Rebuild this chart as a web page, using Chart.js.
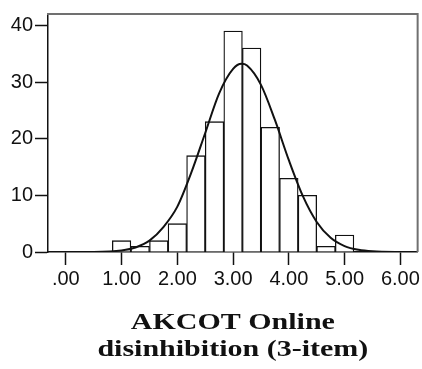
<!DOCTYPE html>
<html>
<head>
<meta charset="utf-8">
<script src="https://cdn.jsdelivr.net/npm/chart.js@4"></script>
<style>
  html, body { margin: 0; padding: 0; background: #fff; }
  #wrap { width: 422px; height: 369px; }
</style>
</head>
<body>
<div id="wrap"><canvas id="histChart" width="422" height="369"></canvas></div>
<script>
// Histogram bins (centres, width 1/3) and counts
const binCentres = [1.0, 1.333, 1.667, 2.0, 2.333, 2.667, 3.0, 3.333, 3.667, 4.0, 4.333, 4.667, 5.0];
const binCounts  = [2, 1, 2, 5, 17, 23, 39, 36, 22, 13, 10, 1, 3];

// Normal curve
const curveX = [-0.32, 0, 0.5, 1.0, 1.25, 1.5, 1.75, 2.0, 2.25, 2.5, 2.75, 3.0, 3.15, 3.25, 3.5, 3.75, 4.0, 4.25, 4.5, 4.75, 5.0, 5.25, 5.5, 6.0, 6.31];
const curveY = [0, 0, 0.02, 0.28, 0.8, 2.0, 4.4, 8.0, 14.0, 21.0, 28.0, 32.3, 33.2, 32.9, 29.5, 23.3, 16.2, 9.9, 5.3, 2.5, 1.05, 0.39, 0.12, 0.01, 0];

const xTickLabels = ['.00', '1.00', '2.00', '3.00', '4.00', '5.00', '6.00'];
const titleLines = ['AKCOT Online', 'disinhibition (3-item)'];

const tickFont = { family: '"Liberation Sans", Arial, sans-serif', size: 20 };

// gray frame on top/right like the SPSS box
const framePlugin = {
  id: 'frame',
  afterDraw(chart) {
    const { ctx, chartArea } = chart;
    ctx.save();
    ctx.strokeStyle = '#707070';
    ctx.lineWidth = 2;
    ctx.beginPath();
    ctx.moveTo(chartArea.left - 1, chartArea.top);
    ctx.lineTo(chartArea.right, chartArea.top);
    ctx.lineTo(chartArea.right, chartArea.bottom);
    ctx.stroke();
    ctx.restore();
  }
};

// axis title, bold serif drawn a bit wide
const titlePlugin = {
  id: 'wideTitle',
  afterDraw(chart) {
    const { ctx, chartArea } = chart;
    const cx = (chartArea.left + chartArea.right) / 2;
    ctx.save();
    ctx.fillStyle = '#111';
    ctx.font = 'bold 24px "Liberation Serif", "Times New Roman", serif';
    ctx.textAlign = 'center';
    ctx.textBaseline = 'alphabetic';
    [329, 356].forEach((y, i) => {
      ctx.save();
      ctx.translate(cx, y);
      ctx.scale(1.25, 1);
      ctx.fillText(titleLines[i], 0, 0);
      ctx.restore();
    });
    ctx.restore();
  }
};

const ctx = document.getElementById('histChart').getContext('2d');
new Chart(ctx, {
  data: {
    datasets: [
      {
        type: 'line',
        data: curveX.map((x, i) => ({ x: x, y: curveY[i] })),
        borderColor: '#111',
        borderWidth: 2,
        pointRadius: 0,
        cubicInterpolationMode: 'monotone',
        fill: false,
        order: 0
      },
      {
        type: 'bar',
        data: binCentres.map((x, i) => ({ x: x, y: binCounts[i] })),
        backgroundColor: '#fff',
        borderColor: '#111',
        borderWidth: 1.3,
        borderSkipped: 'start',
        barPercentage: 1,
        categoryPercentage: 1,
        order: 1
      }
    ]
  },
  options: {
    responsive: false,
    animation: false,
    layout: { padding: { top: 7, right: 4, left: 0, bottom: 0 } },
    plugins: {
      legend: { display: false },
      tooltip: { enabled: false }
    },
    scales: {
      x: {
        type: 'linear',
        min: -0.32,
        max: 6.31,
        offset: false,
        grid: { offset: false, drawOnChartArea: false, tickLength: 13, tickColor: '#111', tickWidth: 1.5 },
        border: { color: '#111', width: 1.5 },
        ticks: {
          stepSize: 1,
          includeBounds: false,
          autoSkip: false,
          maxRotation: 0,
          padding: 2,
          color: '#111',
          font: tickFont,
          callback: (value) => xTickLabels[Math.round(value)]
        },
        afterFit(scale) { scale.height = 117; }
      },
      y: {
        min: 0,
        max: 42,
        grid: { drawOnChartArea: false, tickLength: 13, tickColor: '#111', tickWidth: 1.5 },
        border: { color: '#111', width: 1.5 },
        ticks: {
          stepSize: 10,
          includeBounds: false,
          padding: 2,
          color: '#111',
          font: tickFont
        },
        afterFit(scale) { scale.width = 48; }
      }
    }
  },
  plugins: [framePlugin, titlePlugin]
});
</script>
</body>
</html>
